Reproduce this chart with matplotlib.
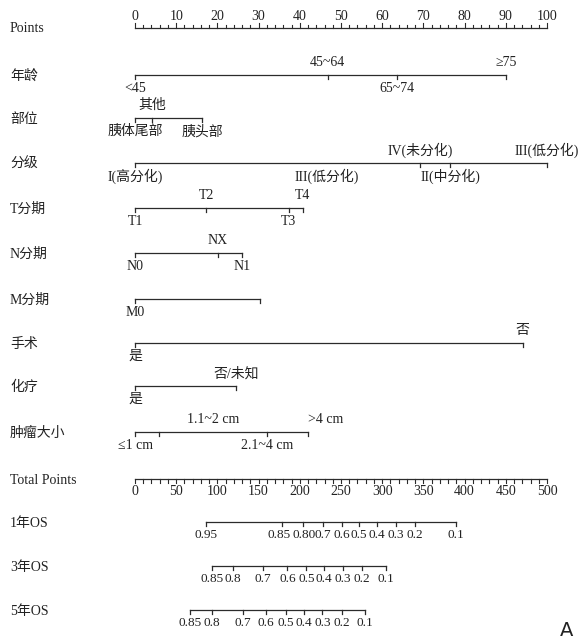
import matplotlib
matplotlib.use("Agg")
import matplotlib.pyplot as plt

plt.rcParams['font.family'] = ['Liberation Serif', 'Noto Sans CJK SC', 'DejaVu Sans']

# row names
row_names = ['Points', '年龄', '部位', '分级', 'T分期', 'N分期', 'M分期', '手术', '化疗',
             '肿瘤大小', 'Total Points', '1年OS', '3年OS', '5年OS']

# points scale
point_ticks = list(range(0, 101, 10))

# variables: tick positions (points), labels, label above (True) / below (False)
age_pos = [0, 46.8, 63.6, 90.0]
age_lab = ['<45', '45~64', '65~74', '≥75']
age_up = [False, True, False, True]

site_pos = [0, 4.1, 16.3]
site_lab = ['胰体尾部', '其他', '胰头部']
site_up = [False, True, False]

grade_pos = [0, 69.2, 76.5, 100]
grade_lab = ['I(高分化)', 'IV(未分化)', 'II(中分化)', 'III(低分化)']
grade_up = [False, True, False, True]
grade_extra_pos = 46.5
grade_extra_lab = 'III(低分化)'

t_pos = [0, 17.3, 37.3, 40.7]
t_lab = ['T1', 'T2', 'T3', 'T4']
t_up = [False, True, False, True]

n_pos = [0, 20.1, 25.9]
n_lab = ['N0', 'NX', 'N1']
n_up = [False, True, False]

m_pos = [0, 30.4]
m_lab = ['M0', '']
m_up = [False, True]

surg_pos = [0, 94.1]
surg_lab = ['是', '否']
surg_up = [False, True]

chemo_pos = [0, 24.6]
chemo_lab = ['是', '否/未知']
chemo_up = [False, True]

size_pos = [0, 5.9, 32.1, 42.0]
size_lab = ['≤1 cm', '1.1~2 cm', '2.1~4 cm', '>4 cm']
size_up = [False, True, False, True]

# total points scale
total_ticks = list(range(0, 501, 50))

# survival probability scales (in total points)
os1_tot = [86, 178.5, 203.5, 228.5, 251, 272, 294, 316.5, 340, 389.5]
os1_lab = ['0.95', '0.85', '0.80', '0.7', '0.6', '0.5', '0.4', '0.3', '0.2', '0.1']
os3_tot = [93, 118.5, 155.5, 185, 208, 229.5, 252, 275, 304.5]
os3_lab = ['0.85', '0.8', '0.7', '0.6', '0.5', '0.4', '0.3', '0.2', '0.1']
os5_tot = [66.5, 93, 130.5, 159, 183.5, 205, 227.5, 251, 279]
os5_lab = ['0.85', '0.8', '0.7', '0.6', '0.5', '0.4', '0.3', '0.2', '0.1']

# layout (pixels)
W, H = 582, 643
X0, X1 = 135, 547
row_y = [28, 75, 118, 163, 208, 253, 299, 343, 386, 432, 479, 522, 566, 610]
LC = '#2b2b2b'
TC = '#222222'
FS = 10
FS_OS = 9.5
GAP_UP = 12.5
GAP_DN = 13.5

fig = plt.figure(figsize=(W / 100, H / 100), dpi=100)
ax = fig.add_axes([0, 0, 1, 1])
scale = (X1 - X0) / 100.0
ax.set_xlim(-X0 / scale, (W - X0) / scale)
ax.set_ylim(H, 0)
ax.axis('off')
xlab = -X0 / scale + 10 / scale

for name, y in zip(row_names, row_y):
    ax.text(xlab, y + 1, name, fontsize=FS, ha='left', va='center', color=TC)

# points axis
y = row_y[0]
ax.plot([0, 100], [y, y], color=LC, lw=0.9)
for v in range(0, 101, 2):
    ln = 5 if v % 10 == 0 else 3
    ax.plot([v, v], [y, y - ln], color=LC, lw=0.8)
for v in point_ticks:
    ax.text(v, y - 11, str(v), fontsize=FS, ha='center', va='center', color=TC)

def draw_var(y, pos, lab, up, shift=None):
    ax.plot([min(pos), max(pos)], [y, y], color=LC, lw=0.9)
    for i, (p, l, u) in enumerate(zip(pos, lab, up)):
        ax.plot([p, p], [y, y + 4], color=LC, lw=0.9)
        px = p
        ha = 'center'
        if shift and i in shift:
            px, ha = shift[i]
        ty = y - GAP_UP if u else y + GAP_DN
        ax.text(px, ty, l, fontsize=FS, ha=ha, va='center', color=TC)

draw_var(row_y[1], age_pos, age_lab, age_up)
draw_var(row_y[2], site_pos, site_lab, site_up)
draw_var(row_y[3], grade_pos, grade_lab, grade_up)
ax.text(grade_extra_pos, row_y[3] + GAP_DN, grade_extra_lab, fontsize=FS, ha='center', va='center', color=TC)
draw_var(row_y[4], t_pos, t_lab, t_up)
draw_var(row_y[5], n_pos, n_lab, n_up)
draw_var(row_y[6], m_pos, m_lab, m_up)
draw_var(row_y[7], surg_pos, surg_lab, surg_up)
draw_var(row_y[8], chemo_pos, chemo_lab, chemo_up)
draw_var(row_y[9], size_pos, size_lab, size_up,
         shift={1: (19.0, 'center'), 3: (size_pos[3], 'left')})

# total points axis
y = row_y[10]
ax.plot([0, 100], [y, y], color=LC, lw=0.9)
for v in range(0, 501, 10):
    ax.plot([v / 5, v / 5], [y, y + 4], color=LC, lw=0.8)
for v in total_ticks:
    ax.text(v / 5, y + 12.5, str(v), fontsize=FS, ha='center', va='center', color=TC)

def draw_os(y, tot, lab, nudge=None):
    xs = [t / 5 for t in tot]
    ax.plot([min(xs), max(xs)], [y, y], color=LC, lw=0.9)
    for i, (x, l) in enumerate(zip(xs, lab)):
        ax.plot([x, x], [y, y + 4], color=LC, lw=0.9)
        dx = nudge.get(i, 0) / scale if nudge else 0
        ax.text(x + dx, y + 13.5, l, fontsize=FS_OS, ha='center', va='center', color=TC)

draw_os(row_y[11], os1_tot, os1_lab, nudge={1: -3, 2: 1.5})
draw_os(row_y[12], os3_tot, os3_lab)
draw_os(row_y[13], os5_tot, os5_lab)

ax.text((567 - X0) / scale, 631, 'A', fontsize=14, ha='center', va='center',
        family=['DejaVu Sans'], color=TC)

fig.savefig('out.png', dpi=100)
